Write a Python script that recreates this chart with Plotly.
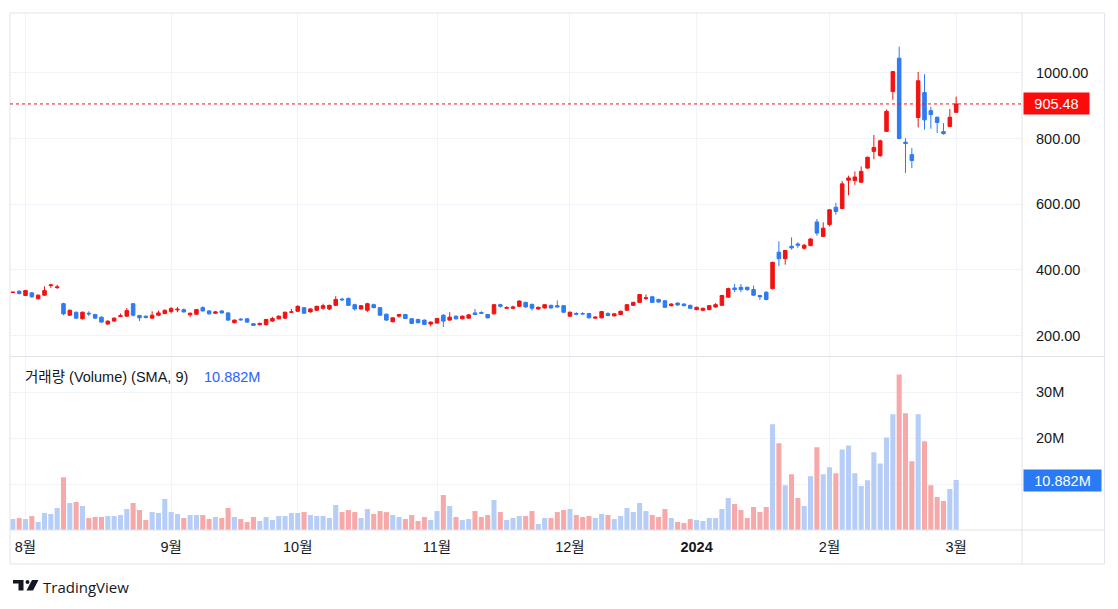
import pandas as pd
import plotly.graph_objects as go

# ---------------- data ----------------
holidays = ["2023-09-04", "2023-11-23", "2023-12-25", "2024-01-01", "2024-01-15", "2024-02-19"]
dates = [d.strftime("%Y-%m-%d") for d in pd.bdate_range("2023-07-28", "2024-03-01")
         if d.strftime("%Y-%m-%d") not in holidays]

opens = [331, 335, 322, 330, 312, 323, 352, 346, 297, 262,
         271, 251, 268, 264, 256, 235, 244, 258, 259, 297,
         261, 259, 253, 262, 267, 273, 278, 279, 263, 265,
         285, 275, 268, 275, 269, 239, 250, 251, 236, 233,
         233, 244, 251, 253, 271, 274, 285, 272, 277, 283,
         281, 292, 311, 313, 294, 281, 277, 294, 285, 265,
         242, 259, 264, 251, 249, 247, 235, 238, 262, 247,
         259, 251, 253, 269, 270, 264, 266, 294, 283, 283,
         289, 301, 295, 281, 284, 292, 291, 291, 259, 267,
         267, 267, 253, 254, 267, 260, 264, 277, 292, 301,
         313, 318, 310, 306, 291, 299, 296, 292, 279, 277,
         279, 287, 292, 317, 345, 347, 347, 340, 322, 332,
         343, 454, 434, 472, 479, 466, 474, 546, 502, 538,
         591, 587, 673, 672, 667, 710, 761, 748, 822, 943,
         1045, 789, 751, 864, 940, 885, 865, 821, 837, 880]
highs = [333, 338, 339, 332, 325, 350, 358, 355, 300, 279,
         273, 273, 274, 266, 258, 246, 255, 267, 284, 299,
         263, 261, 274, 276, 279, 287, 287, 282, 270, 281,
         289, 277, 275, 277, 271, 249, 253, 253, 238, 239,
         251, 257, 261, 273, 281, 292, 287, 283, 291, 297,
         294, 320, 315, 316, 297, 293, 300, 297, 287, 267,
         256, 266, 266, 253, 251, 249, 243, 254, 265, 271,
         261, 261, 265, 281, 274, 266, 296, 297, 289, 291,
         307, 303, 297, 288, 296, 294, 307, 293, 273, 271,
         271, 269, 258, 275, 271, 268, 276, 296, 303, 327,
         325, 321, 312, 308, 298, 301, 298, 294, 288, 285,
         293, 299, 324, 346, 357, 357, 349, 352, 324, 335,
         425, 487, 461, 499, 484, 479, 497, 555, 545, 585,
         604, 671, 687, 700, 715, 745, 811, 797, 888, 1006,
         1080, 801, 771, 1003, 996, 897, 867, 847, 890, 928]
lows = [330, 325, 320, 315, 310, 321, 345, 342, 262, 260,
        251, 249, 259, 251, 239, 233, 242, 257, 257, 258,
        244, 252, 251, 259, 265, 267, 271, 270, 256, 263,
        273, 264, 266, 267, 245, 237, 245, 239, 229, 231,
        231, 242, 249, 251, 269, 272, 266, 270, 275, 279,
        277, 290, 305, 290, 276, 279, 272, 283, 260, 245,
        240, 254, 250, 235, 237, 232, 228, 236, 226, 245,
        249, 249, 251, 262, 266, 252, 264, 285, 281, 281,
        287, 285, 276, 279, 282, 282, 285, 268, 257, 262,
        263, 252, 251, 252, 259, 258, 262, 275, 290, 299,
        308, 299, 300, 284, 289, 291, 289, 281, 277, 274,
        277, 285, 290, 315, 332, 332, 336, 321, 308, 307,
        340, 411, 416, 462, 467, 462, 472, 504, 500, 533,
        568, 585, 627, 659, 665, 708, 737, 744, 820, 918,
        798, 695, 710, 834, 827, 830, 817, 812, 835, 878]
closes = [332, 328, 337, 318, 323, 337, 354, 348, 266, 277,
          253, 271, 266, 253, 241, 244, 253, 260, 276, 262,
          254, 255, 262, 269, 277, 282, 280, 272, 268, 279,
          275, 266, 272, 269, 247, 247, 248, 241, 231, 237,
          249, 252, 259, 271, 272, 289, 268, 281, 289, 291,
          292, 310, 309, 292, 281, 291, 297, 285, 262, 247,
          254, 264, 252, 237, 239, 234, 241, 252, 244, 256,
          251, 259, 263, 264, 268, 254, 294, 289, 285, 287,
          305, 287, 283, 286, 294, 284, 287, 271, 271, 265,
          266, 254, 256, 273, 261, 266, 274, 294, 301, 325,
          315, 301, 302, 286, 296, 293, 291, 283, 286, 283,
          291, 294, 322, 343, 340, 340, 340, 323, 318, 310,
          423, 434, 459, 467, 475, 475, 494, 512, 527, 583,
          578, 662, 680, 683, 700, 743, 773, 793, 883, 1004,
          800, 785, 733, 976, 857, 873, 849, 815, 865, 905.48]
volumes_m = [2.39, 2.61, 2.39, 3.04, 1.74, 3.70, 3.48, 4.78, 11.52, 5.87,
             6.09, 5.22, 2.61, 2.83, 2.83, 3.04, 3.04, 3.26, 4.57, 5.87,
             4.35, 2.17, 3.91, 3.70, 6.74, 3.91, 3.48, 2.61, 3.26, 3.26,
             3.26, 2.39, 2.83, 2.61, 4.78, 2.83, 2.39, 1.74, 2.83, 1.96,
             2.83, 2.17, 3.04, 3.04, 3.70, 3.70, 3.91, 3.26, 3.04, 3.04,
             2.61, 5.43, 3.91, 4.35, 3.91, 2.61, 4.57, 3.48, 4.13, 3.91,
             3.26, 2.83, 2.39, 3.26, 1.96, 2.83, 2.17, 4.13, 7.61, 5.22,
             2.83, 2.17, 2.39, 4.13, 2.83, 3.26, 6.52, 3.91, 2.17, 2.61,
             3.04, 3.04, 4.13, 1.30, 2.61, 2.61, 3.91, 4.35, 4.57, 3.26,
             2.83, 3.04, 2.61, 3.48, 3.26, 2.39, 3.04, 4.78, 3.91, 5.87,
             4.13, 3.26, 2.83, 4.57, 2.61, 1.74, 1.52, 2.39, 2.17, 1.96,
             2.61, 2.61, 4.57, 6.96, 5.65, 4.35, 2.61, 5.00, 3.91, 5.00,
             23.04, 18.91, 9.78, 12.17, 6.96, 5.22, 11.74, 18.04, 12.17, 13.70,
             12.39, 17.54, 18.41, 12.39, 9.57, 10.87, 16.96, 14.49, 20.14, 25.22,
             33.91, 25.43, 15.00, 25.22, 19.35, 9.78, 7.17, 6.30, 8.91, 10.882]

tick_dates = ["2023-08-01", "2023-09-01", "2023-10-02", "2023-11-01",
              "2023-12-01", "2024-01-02", "2024-02-01", "2024-03-01"]
tick_labels = ["8월", "9월", "10월", "11월", "12월", "<b>2024</b>", "2월", "3월"]
price_ticks = [200, 400, 600, 800, 1000]
price_tick_labels = ["200.00", "400.00", "600.00", "800.00", "1000.00"]
vol_ticks_m = [10, 20, 30]
vol_tick_labels = ["", "20M", "30M"]
last_price = 905.48
last_volume_m = 10.882
legend_text = "거래량 (Volume) (SMA, 9)"

# ---------------- style ----------------
UP = "#f21212"
DOWN = "#2e7bf3"
VOL_UP = "#b5cdf7"     # volume colours are inverted in the source chart
VOL_DOWN = "#f7a9a9"
GRID = "#f0f3fa"
BORDER = "#e0e3eb"
TEXT = "#131722"
FONT = "'Liberation Sans', Arial, 'Noto Sans CJK KR', sans-serif"
FS = 14.5

OFF = 8  # page body margin of the html page
W, H = 1118 - OFF, 609 - OFF
L, T = 10 - OFF, 13 - OFF
PW, PH = 1012, 517
R, B = W - L - PW, H - T - PH


def px(xp):
    return (xp - OFF - L) / PW


def py(yp):
    return (T + PH - (yp - OFF)) / PH


vol_colors = [VOL_UP if c >= o else VOL_DOWN for o, c in zip(opens, closes)]

fig = go.Figure()
fig.add_trace(go.Candlestick(
    x=dates, open=opens, high=highs, low=lows, close=closes,
    xaxis="x2", yaxis="y",
    increasing=dict(line=dict(color=UP, width=1), fillcolor=UP),
    decreasing=dict(line=dict(color=DOWN, width=1), fillcolor=DOWN),
    whiskerwidth=0, showlegend=False, hoverinfo="skip",
))
fig.add_trace(go.Bar(
    x=dates, y=[v * 1e6 for v in volumes_m], xaxis="x", yaxis="y2",
    marker=dict(color=vol_colors, line=dict(width=0)),
    showlegend=False, hoverinfo="skip",
))

xrange = [-0.45, 159.4]
split_top = py(356.5)

fig.update_layout(
    width=W, height=H,
    margin=dict(l=L, r=R, t=T, b=B),
    paper_bgcolor="white", plot_bgcolor="white",
    font=dict(family=FONT, size=FS, color=TEXT),
    bargap=0.2, boxgap=0.2,
    xaxis=dict(
        domain=[0, 1], anchor="y2", type="category", range=xrange,
        tickmode="array", tickvals=tick_dates, ticktext=tick_labels,
        showgrid=True, gridcolor=GRID, gridwidth=1, zeroline=False,
        showline=False, ticks="", ticklabelstandoff=6,
        tickfont=dict(family=FONT, size=FS, color=TEXT),
        rangeslider=dict(visible=False), fixedrange=True,
    ),
    xaxis2=dict(
        domain=[0, 1], anchor="y", type="category", matches="x", range=xrange,
        tickmode="array", tickvals=tick_dates, showticklabels=False,
        showgrid=True, gridcolor=GRID, gridwidth=1, zeroline=False,
        showline=False, ticks="", rangeslider=dict(visible=False),
    ),
    yaxis=dict(
        domain=[py(355.5), 1], anchor="x2", side="right",
        range=[139.2, 1182.5], tickmode="array",
        tickvals=price_ticks, ticktext=price_tick_labels,
        showgrid=True, gridcolor=GRID, zeroline=False, showline=False,
        ticks="", ticklabelstandoff=13, tickfont=dict(family=FONT, size=FS, color=TEXT),
    ),
    yaxis2=dict(
        domain=[0, py(357.5)], anchor="x", side="right",
        range=[0, 37.6e6], tickmode="array",
        tickvals=[v * 1e6 for v in vol_ticks_m], ticktext=vol_tick_labels,
        showgrid=True, gridcolor=GRID, zeroline=False, showline=False,
        ticks="", ticklabelstandoff=13, tickfont=dict(family=FONT, size=FS, color=TEXT),
    ),
)

shapes = [
    dict(type="rect", xref="paper", yref="paper", x0=0, x1=px(1104.5), y0=py(564), y1=1,
         line=dict(color=BORDER, width=1), fillcolor="rgba(0,0,0,0)", layer="above"),
    dict(type="line", xref="paper", yref="paper", x0=1, x1=1, y0=py(564), y1=1,
         line=dict(color=BORDER, width=1), layer="above"),
    dict(type="line", xref="paper", yref="paper", x0=0, x1=px(1104.5), y0=split_top, y1=split_top,
         line=dict(color=BORDER, width=1), layer="above"),
    dict(type="line", xref="paper", yref="paper", x0=0, x1=px(1104.5), y0=0, y1=0,
         line=dict(color=BORDER, width=1), layer="above"),
    dict(type="line", xref="paper", yref="y", x0=0, x1=1, y0=last_price, y1=last_price,
         line=dict(color=UP, width=1, dash="dot"), layer="above"),
    # TradingView logo
    dict(type="path", xref="paper", yref="paper",
         path=f"M {px(13)} {py(580)} L {px(23.5)} {py(580)} L {px(23.5)} {py(590.5)} "
              f"L {px(18.5)} {py(590.5)} L {px(18.5)} {py(583.5)} L {px(13)} {py(583.5)} Z",
         fillcolor=TEXT, line=dict(width=0)),
    dict(type="circle", xref="paper", yref="paper",
         x0=px(25.5), x1=px(29.5), y0=py(584), y1=py(580),
         fillcolor=TEXT, line=dict(width=0)),
    dict(type="path", xref="paper", yref="paper",
         path=f"M {px(32)} {py(580)} L {px(38.5)} {py(580)} L {px(33)} {py(590.5)} "
              f"L {px(26.5)} {py(590.5)} Z",
         fillcolor=TEXT, line=dict(width=0)),
]
fig.update_layout(shapes=shapes)

annotations = [
    dict(xref="paper", yref="y", x=1, y=last_price, xanchor="left", yanchor="middle",
         xshift=1, text=f"{last_price:.2f}", showarrow=False,
         font=dict(family=FONT, size=FS, color="white"),
         bgcolor="#ff0a0a", width=59, height=15, borderpad=3, align="center"),
    dict(xref="paper", yref="y2", x=1, y=last_volume_m * 1e6, xanchor="left", yanchor="middle",
         xshift=1, text=f"{last_volume_m:.3f}M", showarrow=False,
         font=dict(family=FONT, size=FS, color="white"),
         bgcolor="#2a7af5", width=71, height=15, borderpad=3, align="center"),
    dict(xref="paper", yref="paper", x=px(23), y=py(377), xanchor="left", yanchor="middle",
         text=legend_text, showarrow=False, font=dict(family=FONT, size=FS, color=TEXT)),
    dict(xref="paper", yref="paper", x=px(202), y=py(377), xanchor="left", yanchor="middle",
         text=f"{last_volume_m:.3f}M", showarrow=False,
         font=dict(family=FONT, size=FS, color="#2962ff")),
    dict(xref="paper", yref="paper", x=px(41), y=py(587), xanchor="left", yanchor="middle",
         text="TradingView", showarrow=False,
         font=dict(family="'Open Sans', Roboto, sans-serif", size=15, color=TEXT)),
]
fig.update_layout(annotations=annotations)

fig.write_html("out.html")
